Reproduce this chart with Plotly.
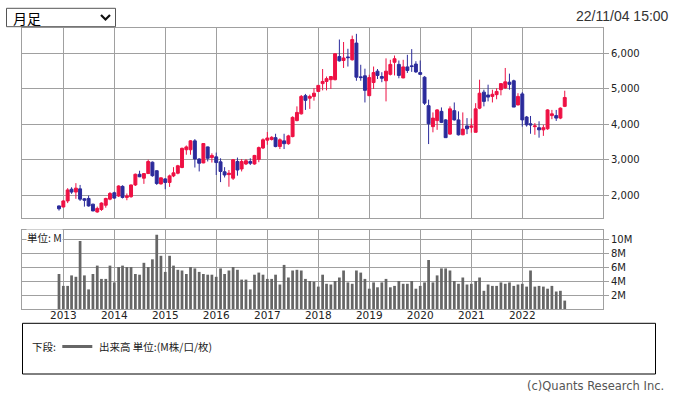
import plotly.graph_objects as go

# ---------------- data ----------------
months = [
    "2012-12",
    "2013-01", "2013-02", "2013-03", "2013-04", "2013-05", "2013-06", "2013-07", "2013-08", "2013-09", "2013-10", "2013-11", "2013-12",
    "2014-01", "2014-02", "2014-03", "2014-04", "2014-05", "2014-06", "2014-07", "2014-08", "2014-09", "2014-10", "2014-11", "2014-12",
    "2015-01", "2015-02", "2015-03", "2015-04", "2015-05", "2015-06", "2015-07", "2015-08", "2015-09", "2015-10", "2015-11", "2015-12",
    "2016-01", "2016-02", "2016-03", "2016-04", "2016-05", "2016-06", "2016-07", "2016-08", "2016-09", "2016-10", "2016-11", "2016-12",
    "2017-01", "2017-02", "2017-03", "2017-04", "2017-05", "2017-06", "2017-07", "2017-08", "2017-09", "2017-10", "2017-11", "2017-12",
    "2018-01", "2018-02", "2018-03", "2018-04", "2018-05", "2018-06", "2018-07", "2018-08", "2018-09", "2018-10", "2018-11", "2018-12",
    "2019-01", "2019-02", "2019-03", "2019-04", "2019-05", "2019-06", "2019-07", "2019-08", "2019-09", "2019-10", "2019-11", "2019-12",
    "2020-01", "2020-02", "2020-03", "2020-04", "2020-05", "2020-06", "2020-07", "2020-08", "2020-09", "2020-10", "2020-11", "2020-12",
    "2021-01", "2021-02", "2021-03", "2021-04", "2021-05", "2021-06", "2021-07", "2021-08", "2021-09", "2021-10", "2021-11", "2021-12",
    "2022-01", "2022-02", "2022-03", "2022-04", "2022-05", "2022-06", "2022-07", "2022-08", "2022-09", "2022-10", "2022-11",
]

opens = [
    1700,
    1670, 1840, 2170, 2090, 2180, 1900, 1910, 1750, 1530, 1600, 1720, 1890,
    2070, 1980, 2250, 1940, 1960, 2290, 2590, 2480, 2610, 2930, 2690, 2320,
    2460, 2360, 2545, 2620, 2780, 3280, 3280, 3530, 3020, 2910, 3360, 3060,
    3080, 2940, 2660, 2580, 2480, 2950, 2740, 2880, 2950, 2880, 3010, 3330,
    3550, 3570, 3620, 3370, 3530, 3450, 3650, 4100, 4290, 4800, 4730, 4780,
    4920, 5140, 5200, 5250, 5250, 5900, 5790, 5890, 5810, 6280, 5330, 5360,
    4800, 5170, 5490, 5340, 5220, 5400, 5740, 5680, 5300, 5610, 5640, 5690,
    5450, 5320, 4520, 3930, 4100, 4360, 4120, 3720, 4380, 4120, 3700, 3950,
    3910, 3770, 4450, 4900, 4820, 4780, 4830, 4970, 5020, 5180, 5220, 4540,
    4850, 4200, 4010, 3930, 3900, 3840, 3870, 4240, 4240, 4170, 4500,
]
highs = [
    1710,
    1860, 2200, 2225, 2340, 2290, 1920, 1990, 1760, 1680, 1800, 1930, 2090,
    2100, 2280, 2280, 2050, 2300, 2610, 2690, 2620, 3000, 2950, 2700, 2500,
    2480, 2580, 2790, 2855, 3340, 3400, 3550, 3580, 3040, 3465, 3370, 3180,
    3200, 3040, 2790, 2710, 3020, 3060, 3020, 3020, 3040, 3135, 3370, 3600,
    3780, 3660, 3730, 3600, 3730, 3700, 4220, 4500, 4820, 4850, 4830, 5010,
    5100, 5550, 5340, 5340, 6000, 6380, 6310, 6120, 6490, 6540, 5670, 5560,
    5390, 5620, 5550, 5460, 5850, 5810, 5930, 5790, 5810, 5950, 6110, 5770,
    5790, 5350, 4690, 4330, 4420, 4470, 4140, 4500, 4610, 4360, 4330, 4170,
    4160, 4590, 5250, 4970, 5110, 4970, 5010, 5150, 5580, 5420, 5250, 4870,
    4900, 4230, 4230, 4030, 4080, 3980, 4420, 4400, 4400, 4470, 4940,
]
lows = [
    1570,
    1660, 1780, 2040, 1900, 1840, 1680, 1680, 1550, 1510, 1560, 1650, 1860,
    1900, 1950, 1910, 1860, 1930, 2260, 2510, 2320, 2600, 2520, 2290, 2300,
    2170, 2235, 2510, 2590, 2760, 3140, 3140, 2780, 2670, 2900, 2950, 2920,
    2570, 2370, 2500, 2240, 2430, 2550, 2670, 2850, 2850, 2860, 2930, 3300,
    3420, 3540, 3350, 3300, 3300, 3420, 3630, 4080, 4270, 4400, 4430, 4660,
    4900, 4950, 4950, 4990, 5230, 5760, 5580, 5620, 5790, 5220, 5220, 4610,
    4790, 4990, 5270, 5180, 4640, 5370, 5370, 5290, 5290, 5440, 5470, 5440,
    5380, 4540, 3440, 3770, 3840, 4030, 3620, 3700, 4100, 3680, 3690, 3720,
    3760, 3770, 4420, 4500, 4640, 4610, 4700, 4810, 4990, 4970, 4480, 4530,
    3930, 3930, 3730, 3700, 3620, 3670, 3840, 4140, 4090, 4140, 4480,
]
closes = [
    1620,
    1840, 2150, 2090, 2200, 1890, 1860, 1700, 1560, 1630, 1780, 1910, 2050,
    1920, 2260, 1940, 1980, 2290, 2590, 2520, 2610, 2950, 2550, 2330, 2490,
    2360, 2545, 2630, 2830, 3320, 3360, 3530, 3020, 2900, 3455, 3040, 3120,
    2920, 2670, 2570, 2620, 3000, 2710, 2950, 2970, 2900, 3120, 3340, 3560,
    3610, 3630, 3370, 3560, 3450, 3670, 4190, 4330, 4780, 4670, 4780, 4870,
    5090, 5200, 5280, 5340, 5980, 5780, 5860, 5870, 6380, 5320, 5310, 4950,
    5310, 5450, 5370, 5290, 5490, 5680, 5840, 5370, 5610, 5510, 5620, 5470,
    5400, 4590, 4010, 4170, 4400, 4050, 3620, 4430, 4120, 3700, 3860, 3870,
    3950, 4430, 4870, 4640, 4760, 4840, 4920, 5140, 5190, 5120, 4480, 4780,
    4120, 3980, 3980, 3950, 3840, 3900, 4400, 4290, 4170, 4450, 4750,
]
volumes_m = [
    5.0,
    3.3, 3.3, 4.8, 4.6, 9.7, 4.8, 2.8, 5.0, 6.2, 4.3, 4.3, 6.2,
    3.8, 6.0, 6.2, 6.0, 6.0, 5.0, 4.9, 6.6, 6.0, 7.1, 10.6, 7.6,
    5.3, 7.6, 6.2, 5.6, 5.5, 5.0, 6.0, 5.8, 5.3, 5.0, 4.9, 4.9,
    4.6, 5.8, 5.0, 5.5, 6.0, 5.6, 4.2, 4.2, 2.8, 4.9, 5.2, 4.9,
    4.3, 4.3, 4.9, 3.5, 6.3, 4.5, 5.5, 5.6, 5.5, 4.3, 4.0, 3.9,
    3.2, 4.9, 3.6, 3.5, 4.0, 4.5, 5.5, 3.8, 3.6, 5.5, 5.2, 4.3,
    2.9, 3.8, 3.1, 3.8, 4.3, 3.1, 3.3, 4.0, 3.6, 3.6, 4.0, 2.9,
    3.3, 3.8, 7.0, 3.8, 4.8, 5.8, 5.8, 5.5, 4.0, 3.6, 4.5, 3.5,
    3.6, 4.0, 4.5, 2.6, 3.5, 3.3, 3.3, 3.8, 3.6, 3.8, 3.3, 3.5,
    3.6, 3.2, 5.5, 3.2, 3.3, 3.2, 2.9, 3.3, 2.5, 2.6, 1.2,
]

year_ticks = ["2013", "2014", "2015", "2016", "2017", "2018", "2019", "2020", "2021", "2022"]
price_ticks = [2000, 3000, 4000, 5000, 6000]
volume_ticks = [2, 4, 6, 8, 10]

# ---------------- styling ----------------
W, H = 676, 397
PL, PR, PT, PB = 22, 603, 28, 309  # plot area in pixels

def px(x):
    return (x - PL) / (PR - PL)

def py(y):
    return (PB - y) / (PB - PT)

UP = "#ee1144"
DOWN = "#2b2b9b"
GRID = "#a0a0a0"
VOL = "#666666"
AXFONT = dict(family="DejaVu Sans", size=10, color="#222222")
JPFONT = "Noto Sans CJK JP"

dates = [m + "-01" for m in months]
year_dates = [y + "-01-01" for y in year_ticks]
x_range = ["2012-03-11", "2023-08-02"]

fig = go.Figure()
fig.add_trace(go.Candlestick(
    x=dates, open=opens, high=highs, low=lows, close=closes,
    increasing=dict(line=dict(color=UP, width=1), fillcolor=UP),
    decreasing=dict(line=dict(color=DOWN, width=1), fillcolor=DOWN),
    whiskerwidth=0, xaxis="x", yaxis="y", hoverinfo="skip", showlegend=False,
))
fig.add_trace(go.Bar(
    x=dates, y=volumes_m, marker=dict(color=VOL, line=dict(width=0)),
    xaxis="x2", yaxis="y2", hoverinfo="skip", showlegend=False,
))

top_lo = py(218.3)
vol_hi = py(229.7)

common_x = dict(
    type="date", range=x_range, tickmode="array", tickvals=year_dates,
    showgrid=True, gridcolor=GRID, gridwidth=1,
    showline=True, linecolor=GRID, linewidth=1, mirror=True,
    zeroline=False, fixedrange=True,
)

fig.update_layout(
    width=W, height=H,
    margin=dict(l=PL, r=W - PR, t=PT, b=H - PB, pad=0),
    paper_bgcolor="white", plot_bgcolor="white",
    bargap=0.3, boxgap=0.25, boxgroupgap=0.0,
    xaxis=dict(common_x, anchor="y", domain=[0, 1], showticklabels=False, ticks="",
               rangeslider=dict(visible=False)),
    yaxis=dict(domain=[top_lo, 1], anchor="x", side="right", range=[1352, 6704],
               tickmode="array", tickvals=price_ticks,
               ticktext=[f"{v:,}" for v in price_ticks],
               ticks="outside", ticklen=5, tickcolor=GRID, tickfont=AXFONT,
               showgrid=True, gridcolor=GRID, gridwidth=1,
               showline=True, linecolor=GRID, linewidth=1, mirror=True,
               zeroline=False, fixedrange=True),
    xaxis2=dict(common_x, anchor="y2", domain=[0, 1], showticklabels=True,
                ticktext=year_ticks, ticks="", tickfont=dict(AXFONT, size=10.5), ticklabelstandoff=-4),
    yaxis2=dict(domain=[0, vol_hi], anchor="x2", side="right", range=[0, 11.33],
                tickmode="array", tickvals=volume_ticks,
                ticktext=[f"{v}M" for v in volume_ticks],
                ticks="outside", ticklen=5, tickcolor=GRID, tickfont=AXFONT,
                showgrid=True, gridcolor=GRID, gridwidth=1,
                showline=True, linecolor=GRID, linewidth=1, mirror=True,
                zeroline=False, fixedrange=True),
)

shapes = []
# dropdown box
shapes.append(dict(type="rect", xref="paper", yref="paper",
                   x0=px(6.5), x1=px(115.5), y0=py(26.7), y1=py(8.3),
                   line=dict(color="#555555", width=1), fillcolor="white", layer="above"))
# dropdown chevron
cx = [101.0, 105.5, 110.0]
cy = [15.0, 19.5, 15.0]
path = "M {} {} L {} {} L {} {}".format(px(cx[0]), py(cy[0]), px(cx[1]), py(cy[1]), px(cx[2]), py(cy[2]))
shapes.append(dict(type="path", xref="paper", yref="paper", path=path,
                   line=dict(color="#111111", width=2.2), layer="above"))
# legend box
shapes.append(dict(type="rect", xref="paper", yref="paper",
                   x0=px(22.5), x1=px(655.5), y0=py(374), y1=py(323.3),
                   line=dict(color="#000000", width=1), fillcolor="rgba(0,0,0,0)", layer="above"))
# legend line sample
shapes.append(dict(type="line", xref="paper", yref="paper",
                   x0=px(62.3), x1=px(92.3), y0=py(346.5), y1=py(346.5),
                   line=dict(color=VOL, width=3), layer="above"))
fig.update_layout(shapes=shapes)

ann = []
ann.append(dict(text="月足", x=px(10.5), y=py(17.8), xref="paper", yref="paper",
                xanchor="left", yanchor="middle", showarrow=False,
                font=dict(family=JPFONT, size=14, color="#000000")))
ann.append(dict(text="22/11/04 15:00", x=px(671), y=py(16), xref="paper", yref="paper",
                xanchor="right", yanchor="middle", showarrow=False,
                font=dict(family="Liberation Sans", size=14, color="#333333")))
ann.append(dict(text="単位: M", x=px(26), y=py(237.7), xref="paper", yref="paper",
                xanchor="left", yanchor="middle", showarrow=False, bgcolor="white", borderpad=0,
                font=dict(family=JPFONT, size=10.5, color="#222222")))
ann.append(dict(text="下段:", x=px(30), y=py(346.5), xref="paper", yref="paper",
                xanchor="left", yanchor="middle", showarrow=False,
                font=dict(family=JPFONT, size=10.5, color="#222222")))
ann.append(dict(text="出来高 単位:(M株/口/枚)", x=px(96.5), y=py(346.5), xref="paper", yref="paper",
                xanchor="left", yanchor="middle", showarrow=False,
                font=dict(family=JPFONT, size=10.5, color="#222222")))
ann.append(dict(text="(c)Quants Research Inc.", x=px(666), y=py(386), xref="paper", yref="paper",
                xanchor="right", yanchor="middle", showarrow=False,
                font=dict(family="DejaVu Sans", size=11.5, color="#555555")))
fig.update_layout(annotations=ann)

fig.write_html("out.html", config=dict(displayModeBar=False, staticPlot=True),
               post_script="document.body.style.margin='0';document.body.style.overflow='hidden';")
